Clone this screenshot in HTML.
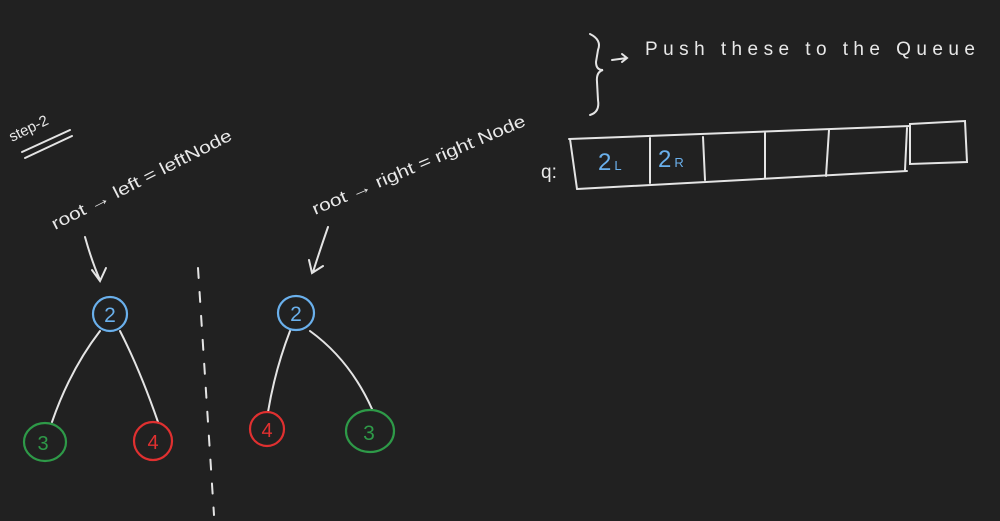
<!DOCTYPE html>
<html><head><style>
html,body{margin:0;padding:0;background:#212121;}
svg{display:block}
text{font-family:"Liberation Sans",sans-serif;fill:#e8e8e8}
</style></head><body>
<svg width="1000" height="521" viewBox="0 0 1000 521" xmlns="http://www.w3.org/2000/svg">
<rect width="1000" height="521" fill="#212121"/>
<g stroke="#e4e4e4" stroke-width="2" fill="none" stroke-linecap="round">
<path d="M22 152 L70 130 M25 158 L72 136"/>
<path d="M85 237 Q92 262 100 280 M92 270 L100 281 L106 268"/>
<path d="M328 227 Q320 250 313 272 M309 260 L312 273 L323 266"/>
<path d="M198 268 L214 515" stroke-dasharray="10 14"/>
<path d="M100 331 Q70 370 52 422"/>
<path d="M120 331 Q140 370 158 422"/>
<path d="M290 331 Q275 370 268 412"/>
<path d="M310 331 Q350 360 372 409"/>
<path d="M590 34 Q602 40 598 50 L596 62 Q596 70 603 70 Q596 72 597 82 L598 100 Q600 112 590 115"/>
<path d="M612 60 L627 58 M622 54 L627 58 L622 62"/>
<path d="M569 139 L910 126"/>
<path d="M570 139 L577 189"/>
<path d="M577 189 L907 171"/>
<path d="M650 138 L650 183 M703 137 L705 180 M765 133 L765 178 M829 130 L826 176 M907 128 L905 170"/>
<path d="M910 124 L965 121 L967 162 L910 164 Z"/>
</g>
<g fill="none" stroke-width="2.2">
<ellipse cx="110" cy="314" rx="17" ry="17" stroke="#6ab0ec"/>
<ellipse cx="296" cy="313" rx="18" ry="17" stroke="#6ab0ec"/>
<ellipse cx="45" cy="442" rx="21" ry="19" stroke="#2e9a48"/>
<ellipse cx="153" cy="441" rx="19" ry="19" stroke="#e03030"/>
<ellipse cx="267" cy="429" rx="17" ry="17" stroke="#e03030"/>
<ellipse cx="370" cy="431" rx="24" ry="21" stroke="#2e9a48"/>
</g>
<text x="110" y="322" font-size="21" text-anchor="middle" style="fill:#6ab0ec">2</text>
<text x="296" y="321" font-size="21" text-anchor="middle" style="fill:#6ab0ec">2</text>
<text x="43" y="450" font-size="20" text-anchor="middle" style="fill:#2e9a48">3</text>
<text x="153" y="449" font-size="20" text-anchor="middle" style="fill:#e03030">4</text>
<text x="267" y="437" font-size="20" text-anchor="middle" style="fill:#e03030">4</text>
<text x="369" y="440" font-size="21" text-anchor="middle" style="fill:#2e9a48">3</text>
<text x="598" y="170" font-size="24" style="fill:#6ab0ec">2<tspan font-size="13" dx="3">L</tspan></text>
<text x="658" y="167" font-size="24" style="fill:#6ab0ec">2<tspan font-size="13" dx="3">R</tspan></text>
<text x="541" y="178" font-size="19">q:</text>
<text x="0" y="0" font-size="15" transform="translate(12,142) rotate(-26)">step-2</text>
<text x="0" y="0" font-size="17" transform="translate(55,230) rotate(-27)" textLength="200" lengthAdjust="spacingAndGlyphs">root → left = leftNode</text>
<text x="0" y="0" font-size="17" transform="translate(315,215) rotate(-23)" textLength="230" lengthAdjust="spacingAndGlyphs">root → right = right Node</text>
<text x="645" y="55" font-size="19" textLength="330">Push  these  to  the  Queue</text>
</svg>
</body></html>
